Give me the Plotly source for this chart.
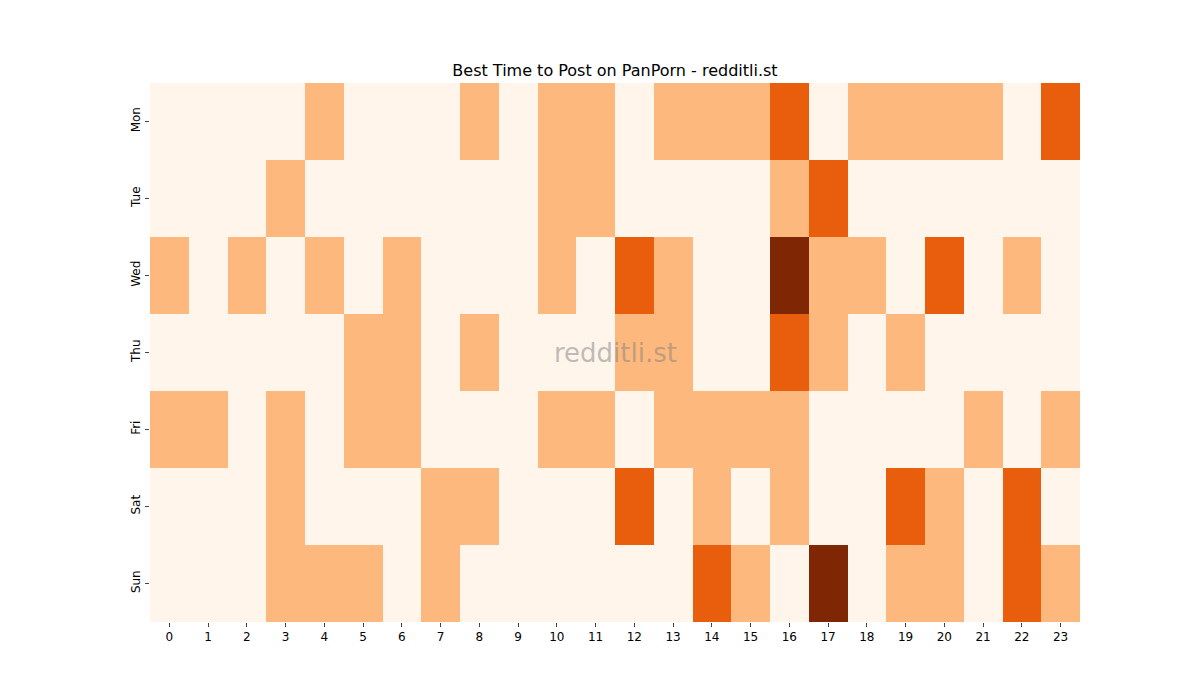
import plotly.graph_objects as go

hours = list(range(24))
days = ["Mon", "Tue", "Wed", "Thu", "Fri", "Sat", "Sun"]

mon = [0, 0, 0, 0, 1, 0, 0, 0, 1, 0, 1, 1, 0, 1, 1, 1, 2, 0, 1, 1, 1, 1, 0, 2]
tue = [0, 0, 0, 1, 0, 0, 0, 0, 0, 0, 1, 1, 0, 0, 0, 0, 1, 2, 0, 0, 0, 0, 0, 0]
wed = [1, 0, 1, 0, 1, 0, 1, 0, 0, 0, 1, 0, 2, 1, 0, 0, 3, 1, 1, 0, 2, 0, 1, 0]
thu = [0, 0, 0, 0, 0, 1, 1, 0, 1, 0, 0, 0, 1, 1, 0, 0, 2, 1, 0, 1, 0, 0, 0, 0]
fri = [1, 1, 0, 1, 0, 1, 1, 0, 0, 0, 1, 1, 0, 1, 1, 1, 1, 0, 0, 0, 0, 1, 0, 1]
sat = [0, 0, 0, 1, 0, 0, 0, 1, 1, 0, 0, 0, 2, 0, 1, 0, 1, 0, 0, 2, 1, 0, 2, 0]
sun = [0, 0, 0, 1, 1, 1, 0, 1, 0, 0, 0, 0, 0, 0, 2, 1, 0, 3, 0, 1, 1, 0, 2, 1]

z = [mon, tue, wed, thu, fri, sat, sun]

colorscale = [
    [0.0, "#fff5eb"], [0.25, "#fff5eb"],
    [0.25, "#fdb97d"], [0.5, "#fdb97d"],
    [0.5, "#e95e0d"], [0.75, "#e95e0d"],
    [0.75, "#7f2704"], [1.0, "#7f2704"],
]

fig = go.Figure(go.Heatmap(
    z=z, x=hours, y=days, colorscale=colorscale, zmin=0, zmax=3,
    showscale=False, xgap=0, ygap=0,
))

fig.update_layout(
    width=1200, height=700,
    margin=dict(l=142, r=128, t=75, b=86),
    paper_bgcolor="white", plot_bgcolor="white",
    font=dict(family="DejaVu Sans", size=12, color="black"),
    title=dict(text="Best Time to Post on PanPorn - redditli.st", x=(142 + 465) / 1200, xanchor="center",
               y=1 - 62 / 700, yanchor="middle", font=dict(size=16)),
    xaxis=dict(tickmode="array", tickvals=hours, ticktext=[str(h) for h in hours],
               ticks="outside", ticklen=4, showgrid=False, zeroline=False),
    yaxis=dict(autorange="reversed", ticks="outside", ticklen=4, tickangle=-90,
               showgrid=False, zeroline=False),
    annotations=[dict(text="redditli.st", x=0.5, y=0.5, xref="paper", yref="paper",
                      showarrow=False, font=dict(size=26, color="rgba(128,128,128,0.5)"))],
)

fig.write_html("out.html")
